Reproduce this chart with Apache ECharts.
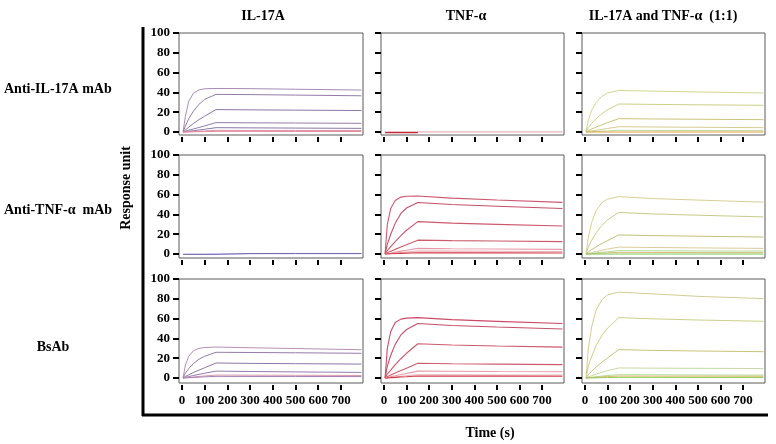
<!DOCTYPE html>
<html><head><meta charset="utf-8">
<script src="https://cdn.jsdelivr.net/npm/echarts@6/dist/echarts.min.js"></script>
<style>html,body{margin:0;padding:0;background:#fff}#c{width:776px;height:444px}</style>
</head><body><div id="c"></div>
<script>
// ---- data ----
const times = [5, 15, 30, 50, 75, 100, 150, 300, 500, 790];
const xTicks = [0, 100, 200, 300, 400, 500, 600, 700];
const yTicks = [0, 20, 40, 60, 80, 100];
const colTitles = ['IL-17A', 'TNF-α', 'IL-17A and TNF-α  (1:1)'];
const rowTitles = ['Anti-IL-17A mAb', 'Anti-TNF-α  mAb', 'BsAb'];
const xTitle = 'Time (s)';
const yTitle = 'Response unit';

const r1c1 = [
  [0, 16, 31, 39, 42.5, 43.7, 44, 43.8, 43.2, 42.4],
  [0, 6, 13.5, 21, 28, 33, 38, 37.8, 37.3, 36.6],
  [0, 2, 5, 8.5, 12.5, 16, 22.7, 22.4, 22.1, 21.7],
  [0, 0.8, 1.8, 3, 4.6, 6.2, 9.5, 9.3, 9.1, 8.8],
  [0, 0.3, 0.8, 1.3, 2, 2.8, 4.4, 4.2, 4, 3.7],
  [0, 0.1, 0.3, 0.5, 0.8, 1.1, 1.7, 1.6, 1.6, 1.5],
  [0, 0, 0.1, 0.2, 0.3, 0.4, 0.7, 0.7, 0.6, 0.6]
];
const r1c2 = [
  [0.2, 0.2, 0.2, 0.2, 0.2, 0.2, 0.2, 0.2, 0.2, 0.2],
  [-0.7, -0.7, -0.7, -0.7, -0.7, -0.7, -0.7]
];
const r1c3 = [
  [0, 12, 22, 30, 36, 39.5, 42, 41.3, 40.5, 39.4],
  [0, 4.5, 8.8, 13.5, 18.5, 22.5, 28.3, 27.9, 27.5, 27],
  [0, 1.5, 3, 5, 7.3, 9.5, 13.5, 13.2, 12.9, 12.5],
  [0, 0.5, 1.1, 1.8, 2.7, 3.6, 5.4, 5.1, 4.8, 4.4],
  [0, 0.2, 0.4, 0.6, 0.9, 1.1, 1.7, 1.6, 1.5, 1.4],
  [0, 0, 0, 0, 0, 0, 0, 0, 0, 0]
];
const r2c1 = [
  [0, 0, 0, 0, 0, 0, 0, 0.3, 0.3, 0.3],
  [-0.4, -0.4, -0.4, -0.4, -0.4, -0.4, -0.3, 0.5, 0.6, 0.6]
];
const r2c2 = [
  [0, 30, 46, 54, 57.5, 58.3, 58.6, 56.5, 54.5, 52.2],
  [0, 10, 20, 31, 41, 46.5, 52, 50, 48.3, 46],
  [0, 3.5, 7.5, 12.5, 18.5, 24, 32.7, 31.2, 30, 28.3],
  [0, 1.3, 2.8, 4.7, 7, 9.3, 14, 13.5, 13.1, 12.5],
  [0, 0.5, 1.1, 1.9, 2.9, 3.8, 5.7, 5.4, 5.1, 4.7],
  [0, 0.3, 0.6, 1, 1.5, 2, 3, 2.9, 2.8, 2.6],
  [0, 0.1, 0.3, 0.5, 0.7, 0.9, 1.3, 1.2, 1.2, 1.1]
];
const r2c3 = [
  [0, 17, 32, 44, 52, 55.5, 58, 56, 54.5, 52.4],
  [0, 7, 14, 21.5, 29, 34.5, 42, 40.5, 39.2, 37.5],
  [0, 2.2, 4.5, 7.3, 10.6, 13.6, 19.3, 18.6, 18, 17.2],
  [0, 0.7, 1.5, 2.5, 3.8, 5, 7, 6.6, 6.2, 5.7],
  [0, 0.3, 0.7, 1.2, 1.8, 2.3, 3.4, 3.3, 3.1, 3],
  [0, 0.2, 0.4, 0.6, 0.9, 1.2, 1.7, 1.6, 1.5, 1.4],
  [0, 0, 0, 0, 0, 0, 0, 0, 0, 0]
];
const r3c1 = [
  [0, 13, 22, 27.5, 30, 30.8, 31.3, 30.6, 29.8, 28.6],
  [0, 5, 9.5, 14.5, 19, 22, 26, 25.8, 25.5, 25],
  [0, 1.6, 3.3, 5.5, 8, 10.4, 15.2, 14.8, 14.5, 14.1],
  [0, 0.7, 1.5, 2.5, 3.7, 4.9, 7, 6.6, 6.2, 5.7],
  [0, 0.3, 0.6, 1, 1.6, 2.1, 3, 2.9, 2.8, 2.6],
  [0, 0.2, 0.4, 0.6, 0.9, 1.2, 1.7, 1.6, 1.6, 1.5]
];
const r3c2 = [
  [0, 30, 47, 56, 59.5, 60.5, 61, 59, 57.2, 55],
  [0, 12, 23, 34, 43.5, 49, 55, 53, 51.5, 49.5],
  [0, 4, 8, 13.5, 19.5, 25, 34.6, 33.3, 32.3, 31.2],
  [0, 1.4, 3, 5, 7.5, 10, 15, 14.5, 14.1, 13.6],
  [0, 0.6, 1.4, 2.3, 3.5, 4.6, 7, 6.8, 6.6, 6.4],
  [0, 0.3, 0.7, 1.1, 1.7, 2.3, 3.4, 3.3, 3.1, 3],
  [0, 0.2, 0.4, 0.7, 1, 1.3, 2, 1.9, 1.9, 1.8]
];
const r3c3 = [
  [0, 30, 52, 69, 79, 84, 86.7, 85, 82.5, 80.2],
  [0, 12, 22, 33, 43, 50.5, 61, 59.8, 58.6, 57.3],
  [0, 3.5, 7, 11.3, 16, 20.3, 28.7, 27.9, 27.3, 26.6],
  [0, 1.2, 2.4, 4, 5.8, 7.4, 10.2, 10, 9.8, 9.6],
  [0, 0.4, 0.8, 1.3, 2, 2.6, 3.4, 3.3, 3.1, 3],
  [0, 0.2, 0.5, 0.8, 1.2, 1.5, 2, 1.9, 1.9, 1.8],
  [0, 0.1, 0.2, 0.3, 0.4, 0.5, 0.7, 0.7, 0.6, 0.6]
];
const panels = [[r1c1, r1c2, r1c3], [r2c1, r2c2, r2c3], [r3c1, r3c2, r3c3]];

// ---- styles ----
const palettes = [
  [['#a68cb6', '#937ca8', '#8f78a6', '#957cac', '#8a78aa', '#dc98aa', '#e4889a'],
   ['#eab0b8', '#c02838'],
   ['#d4d692', '#cdd088', '#ccc47a', '#d6cc90', '#bcdc98', '#e3a040']],
  [['#a8bae6', '#7a64b4'],
   ['#cc5870', '#c4506a', '#cc5a6e', '#cc5c6a', '#e69aa6', '#eab0b6', '#d23a48'],
   ['#d6d092', '#c8cc88', '#c4c076', '#dccc98', '#b0dc98', '#dcbc7a', '#7cc85a']],
  [['#b890b4', '#937ca8', '#8f78a6', '#957cac', '#dc98aa', '#a880b6'],
   ['#cc4a68', '#c4506a', '#cc5a6e', '#cc5c6a', '#e69aa6', '#eab0b6', '#d23a48'],
   ['#d4cc92', '#ccd088', '#c8c47a', '#cad8a8', '#b0dc98', '#e2b86a', '#90cc5a']]
];
const widths = [[1, 1.3, 1], [1, 1.1, 1], [1, 1.1, 1]];
const colLeft = [179, 381, 582];
const colWidth = [184, 183, 183];
const rowTop = [33, 155, 279];
const rowHeight = [102, 103, 104];
const rowMin = [-3, -4, -5];
const F = '"Liberation Serif", "Times New Roman", serif';

const grids = [], xAxes = [], yAxes = [], series = [];
for (let r = 0; r < 3; r++) {
  for (let c = 0; c < 3; c++) {
    const k = r * 3 + c;
    grids.push({left: colLeft[c], top: rowTop[r], width: colWidth[c], height: rowHeight[r],
      show: true, borderColor: '#5a5a5a', borderWidth: 1, backgroundColor: '#fff'});
    xAxes.push({gridIndex: k, type: 'value', min: -13, max: 797, offset: 2,
      axisLine: {show: false, onZero: false}, splitLine: {show: false},
      axisTick: {show: true, customValues: xTicks, length: 5, lineStyle: {color: '#000', width: 2}},
      axisLabel: {show: r === 2, customValues: xTicks, color: '#000', fontFamily: F, fontWeight: 'bold', fontSize: 13, margin: 9}});
    yAxes.push({gridIndex: k, type: 'value', min: rowMin[r], max: 100,
      axisLine: {show: false, onZero: false}, splitLine: {show: false},
      axisTick: {show: true, customValues: yTicks, length: 6, lineStyle: {color: '#000', width: 2}},
      axisLabel: {show: c === 0, customValues: yTicks, color: '#000', fontFamily: F, fontWeight: 'bold', fontSize: 13, margin: 9}});
    panels[r][c].forEach((vals, i) => {
      const d = [];
      vals.forEach((v, j) => { if (v !== null && v !== undefined) d.push([times[j], v]); });
      series.push({type: 'line', xAxisIndex: k, yAxisIndex: k, data: d, symbol: 'none',
        showSymbol: false, silent: true, animation: false,
        lineStyle: {color: palettes[r][c][i % palettes[r][c].length], width: widths[r][c]}});
    });
  }
}

const txt = (x, y, text, align, extra) => Object.assign({type: 'text', x: x, y: y, z: 100,
  style: {text: text, fill: '#000', fontFamily: F, fontWeight: 'bold', fontSize: 14, align: align || 'center', verticalAlign: 'middle'}}, extra || {});

const graphic = [
  {type: 'line', z: 100, shape: {x1: 143, y1: 27, x2: 143, y2: 416}, style: {stroke: '#000', lineWidth: 3}},
  {type: 'line', z: 100, shape: {x1: 142, y1: 415, x2: 768, y2: 415}, style: {stroke: '#000', lineWidth: 3}},
  txt(263, 16, colTitles[0]),
  txt(466, 16, colTitles[1]),
  txt(663, 16, colTitles[2]),
  txt(4, 89, rowTitles[0], 'left'),
  txt(4, 210, rowTitles[1], 'left'),
  txt(53, 347, rowTitles[2]),
  txt(126, 188, yTitle, 'center', {rotation: Math.PI / 2}),
  txt(490, 433, xTitle)
];

const chart = echarts.init(document.getElementById('c'), null, {renderer: 'canvas'});
chart.setOption({animation: false, backgroundColor: '#fff', grid: grids, xAxis: xAxes, yAxis: yAxes, series: series, graphic: graphic});
</script></body></html>
